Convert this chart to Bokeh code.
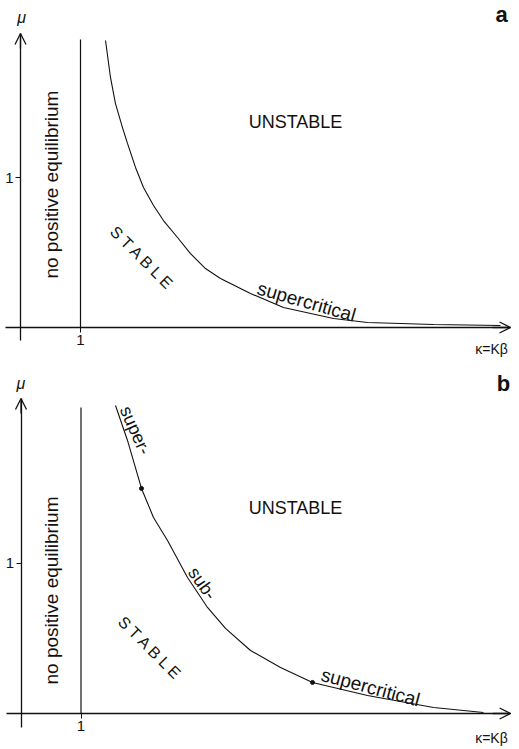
import math
from bokeh.plotting import figure
from bokeh.models import (LinearAxis, FixedTicker, Arrow, OpenHead, Label, Range1d)
from bokeh.layouts import column
from bokeh.embed import file_html
from bokeh.resources import INLINE

# ---------------- data ----------------
# panel a: stability boundary (all supercritical)
kappa_a = [1.417, 1.50, 1.583, 1.70, 1.783, 1.917, 2.05, 2.217, 2.383, 2.617, 2.833,
           3.083, 3.333, 3.833, 4.383, 5.217, 5.783, 6.883, 8.0]
mu_a = [1.913, 1.667, 1.493, 1.333, 1.227, 1.067, 0.933, 0.813, 0.713, 0.60, 0.493,
        0.393, 0.327, 0.227, 0.133, 0.06, 0.033, 0.02, 0.013]

# panel b: stability boundary with super-/sub-/supercritical parts
kappa_b = [1.575, 1.775, 2.008, 2.208, 2.442, 2.775, 3.108, 3.408, 3.825, 4.325,
           4.858, 5.775, 6.875, 7.708]
mu_b = [2.053, 1.82, 1.50, 1.307, 1.153, 0.907, 0.707, 0.567, 0.42, 0.307,
        0.207, 0.12, 0.04, 0.007]

# points where the bifurcation type changes (panel b)
switch_kappa_b = [2.008, 4.858]
switch_mu_b = [1.50, 0.207]

# existence boundary kappa = 1
boundary_kappa = [1.0, 1.0]
boundary_mu_a = [0.0, 1.92]
boundary_mu_b = [0.0, 2.04]

x_ticks = [1]
y_ticks = [1]
tick_labels = {1: "1"}

FONT = "Liberation Sans"
INK = "#111111"


def make_panel(height, xr, yr, x_bounds, y_bounds, kappa, mu,
               bmu, letter, letter_pos, mu_pos, kap_pos, texts):
    p = figure(width=519, height=height, x_range=Range1d(*xr), y_range=Range1d(*yr),
               x_axis_type=None, y_axis_type=None, output_backend="svg",
               toolbar_location=None, min_border=0, outline_line_color=None,
               background_fill_color="white", border_fill_color="white")

    for ticks, bounds, side in ((x_ticks, x_bounds, "below"),
                                (y_ticks, y_bounds, "left")):
        ax = LinearAxis(fixed_location=0, ticker=FixedTicker(ticks=ticks),
                        bounds=bounds, major_label_overrides=tick_labels)
        ax.axis_line_color = INK
        ax.axis_line_width = 1.3
        ax.major_tick_line_color = INK
        ax.major_tick_in = 0
        ax.major_tick_out = 5
        ax.minor_tick_line_color = None
        ax.major_label_standoff = 2
        ax.major_label_text_font = FONT
        ax.major_label_text_font_size = "15px"
        ax.major_label_text_color = INK
        p.add_layout(ax, side)

    # arrow heads on the axes
    p.add_layout(Arrow(end=OpenHead(size=11, line_width=1.3, line_color=INK),
                       x_start=x_bounds[1] - 0.3, y_start=0, x_end=x_bounds[1], y_end=0,
                       line_color=INK, line_width=1.3))
    p.add_layout(Arrow(end=OpenHead(size=11, line_width=1.3, line_color=INK),
                       x_start=0, y_start=y_bounds[1] - 0.1, x_end=0, y_end=y_bounds[1],
                       line_color=INK, line_width=1.3))

    # existence boundary and stability boundary
    p.line(boundary_kappa, bmu, line_color=INK, line_width=1.2)
    p.line(kappa, mu, line_color=INK, line_width=1.1)

    # axis names and panel letter
    p.add_layout(Label(x=mu_pos[0], y=mu_pos[1], text="μ", text_font=FONT,
                       text_font_style="italic", text_font_size="16px", text_color=INK,
                       text_align="center", text_baseline="middle"))
    p.add_layout(Label(x=kap_pos[0], y=kap_pos[1], text="κ=Kβ", text_font=FONT,
                       text_font_size="14px", text_color=INK,
                       text_align="center", text_baseline="middle"))
    p.add_layout(Label(x=letter_pos[0], y=letter_pos[1], text=letter, text_font=FONT,
                       text_font_style="bold", text_font_size="22px", text_color=INK,
                       text_align="center", text_baseline="middle"))

    for (tx, ty, txt, ang, size) in texts:
        p.add_layout(Label(x=tx, y=ty, text=txt, angle=math.radians(ang),
                           text_font=FONT, text_font_size=size, text_color=INK,
                           text_align="center", text_baseline="middle"))
    return p


texts_a = [
    (0.517, 0.953, "no positive equilibrium", 90, "19px"),
    (4.583, 1.367, "UNSTABLE", 0, "18px"),
    (2.033, 0.46, "S T A B L E", -45, "16px"),
    (4.767, 0.172, "supercritical", -16, "19px"),
]
pa = make_panel(360, (-0.3333, 8.3167), (-0.22, 2.18), (-0.25, 8.167), (-0.087, 1.96),
                kappa_a, mu_a, boundary_mu_a, "a", (8.02, 2.087), (0.02, 2.067),
                (7.85, -0.14), texts_a)

texts_b = [
    (0.508, 0.82, "no positive equilibrium", 90, "19px"),
    (4.575, 1.373, "UNSTABLE", 0, "18px"),
    (2.158, 0.433, "S T A B L E", -45, "16px"),
    (1.905, 1.887, "super-", -66, "18px"),
    (3.02, 0.867, "sub-", -55, "18px"),
    (5.825, 0.175, "supercritical", -15, "19px"),
]
pb = make_panel(388, (-0.3417, 8.308), (-0.2333, 2.353), (-0.25, 8.16), (-0.093, 2.1),
                kappa_b, mu_b, boundary_mu_b, "b", (8.04, 2.2), (0.0, 2.2),
                (7.84, -0.16), texts_b)
pb.scatter(switch_kappa_b, switch_mu_b, size=4, color=INK)

layout = column(pa, pb, spacing=0)
open("out.html", "w").write(file_html(layout, INLINE))
